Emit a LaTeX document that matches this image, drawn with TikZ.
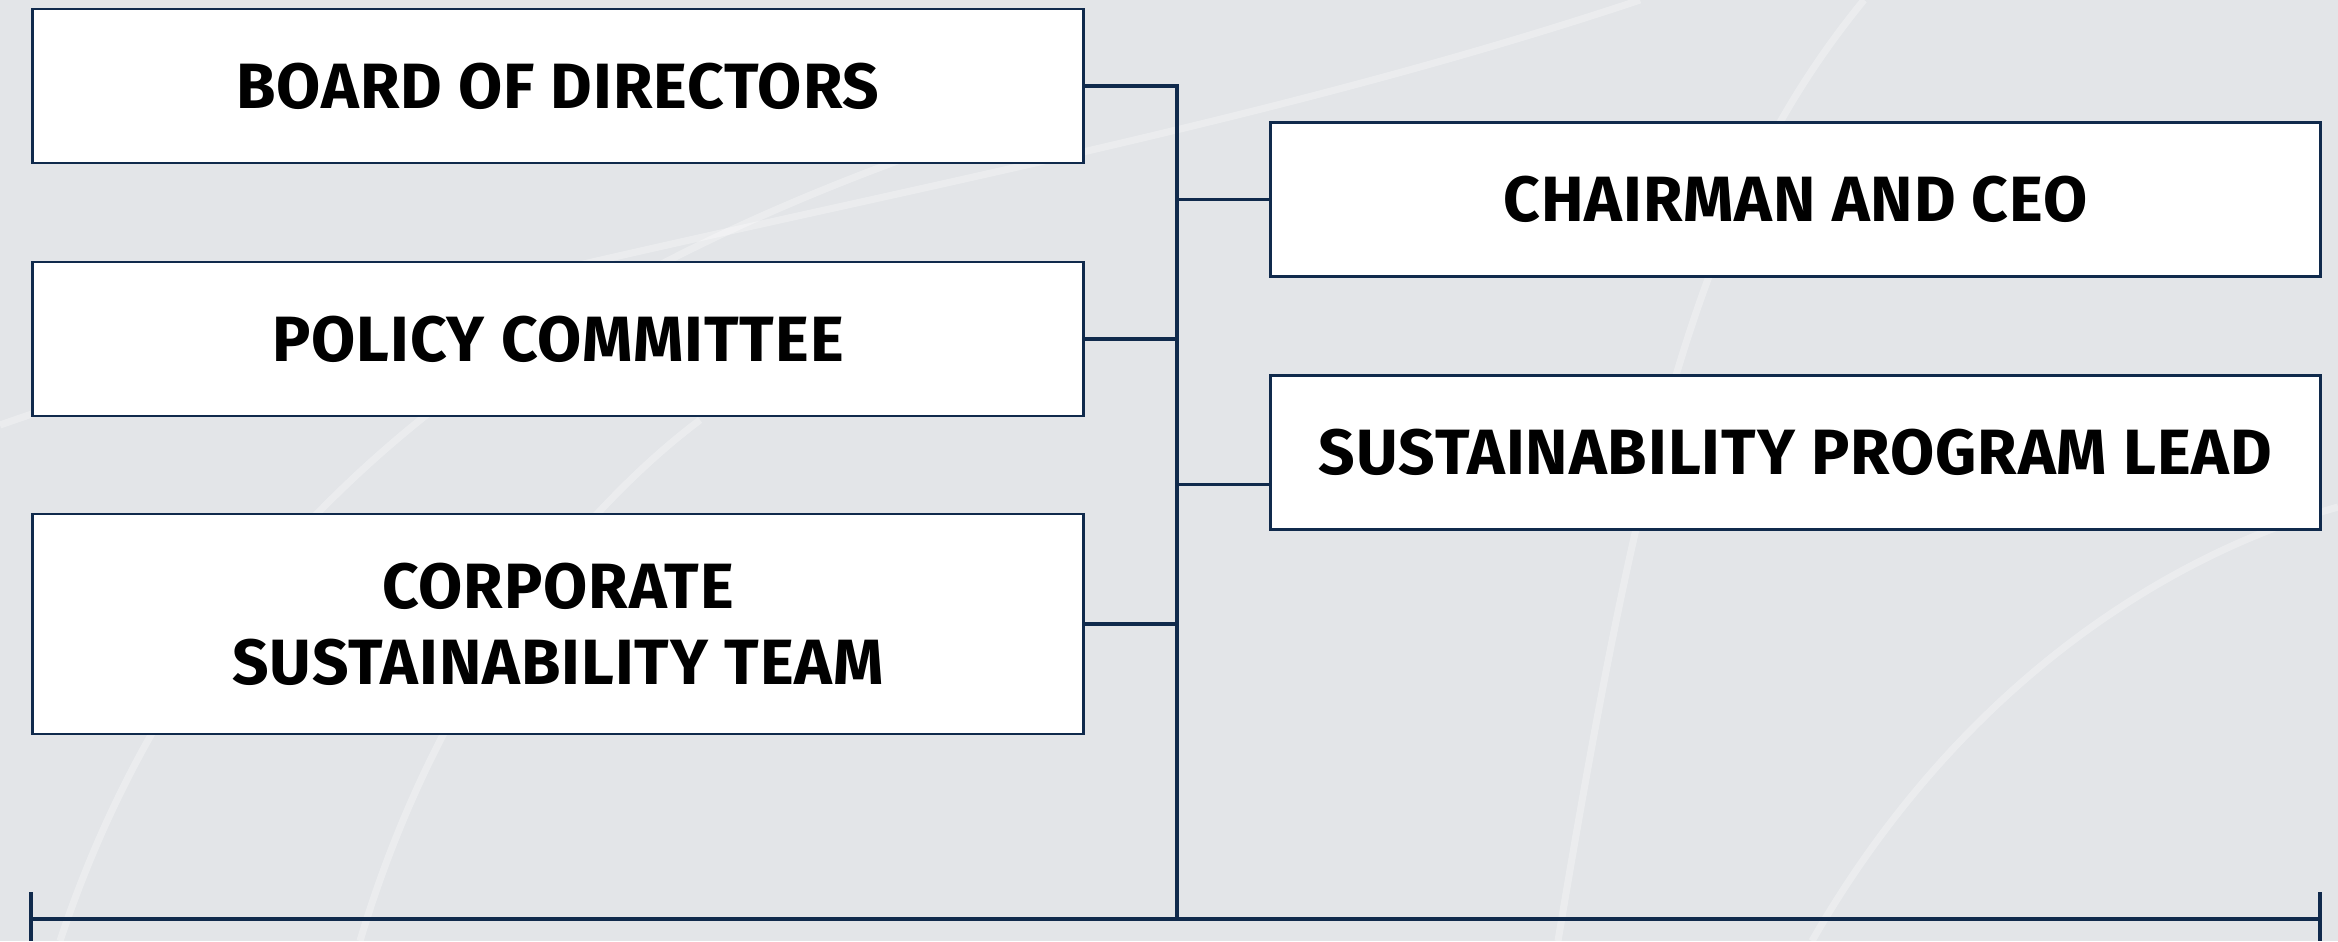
\documentclass[tikz,border=0pt]{standalone}
\usepackage{fontspec}
\setmainfont[FakeStretch=1.0, LetterSpace=1.5]{Fira Sans}
\usepackage{tikz}
\usetikzlibrary{positioning}
\definecolor{lineColor}{RGB}{16,42,76}
\definecolor{backColor}{RGB}{227,229,232}
\tikzstyle{chart} = [x = .01cm, y = -.01cm]
\tikzstyle{unitBox} = [draw=lineColor, fill=white, line width=.8pt, inner sep=0pt, minimum height=1.54cm, align=center, font=\fontsize{18.2}{21.6}\selectfont\bfseries]
\tikzstyle{wideBox} = [unitBox, minimum width=10.5cm]
\tikzstyle{linkLine} = [color=lineColor, line width=.9pt]
\tikzstyle{swoosh} = [color=white, opacity=.3, line width=2pt]

\begin{document}
\begin{tikzpicture}[chart]
  % background
  \fill [backColor] (0,0) rectangle (2338,941);
  \useasboundingbox (0,0) rectangle (2338,941);
  \draw [swoosh] (0,425) .. controls (500,250) and (1100,180) .. (1640,0);
  \draw [swoosh] (60,941) .. controls (200,520) and (520,300) .. (900,160);
  \draw [swoosh] (360,941) .. controls (450,640) and (620,480) .. (700,420);
  \draw [swoosh] (1558,941) .. controls (1640,450) and (1700,200) .. (1864,0);
  \draw [swoosh] (1812,941) .. controls (1950,700) and (2150,560) .. (2338,507);

  % boxes
  \node [wideBox] (board) at (558,86) {BOARD OF DIRECTORS};
  \node [wideBox] (policy) at (558,339) {POLICY COMMITTEE};
  \node [wideBox, minimum height=2.2cm] (team) at (558,624) {CORPORATE\\SUSTAINABILITY TEAM};
  \node [wideBox, minimum width=10.49cm] (chair) at (1795.5,199.5) {CHAIRMAN AND CEO};
  \node [wideBox, minimum width=10.49cm] (lead) at (1795.5,452.5) {SUSTAINABILITY PROGRAM LEAD};

  % trunk and base line
  \coordinate (trunkTop) at (1177,86);
  \coordinate (trunkEnd) at (1177,919);
  \coordinate (baseLeft) at (31,919);
  \coordinate (baseRight) at (2320,919);
  \draw [linkLine] (board.east) -- (trunkTop) -- (trunkEnd);
  \draw [linkLine] (policy.east) -- (policy.east -| trunkTop);
  \draw [linkLine] (team.east) -- (team.east -| trunkTop);
  \draw [linkLine] (chair.west) -- (chair.west -| trunkTop);
  \draw [linkLine] ([yshift=-.32cm]lead.west) -- ([yshift=-.32cm]lead.west -| trunkTop);
  \draw [linkLine] (baseLeft) -- (baseRight);
  \draw [linkLine] ([yshift=.27cm]baseLeft) -- ([yshift=-.22cm]baseLeft);
  \draw [linkLine] ([yshift=.27cm]baseRight) -- ([yshift=-.22cm]baseRight);
\end{tikzpicture}
\end{document}
